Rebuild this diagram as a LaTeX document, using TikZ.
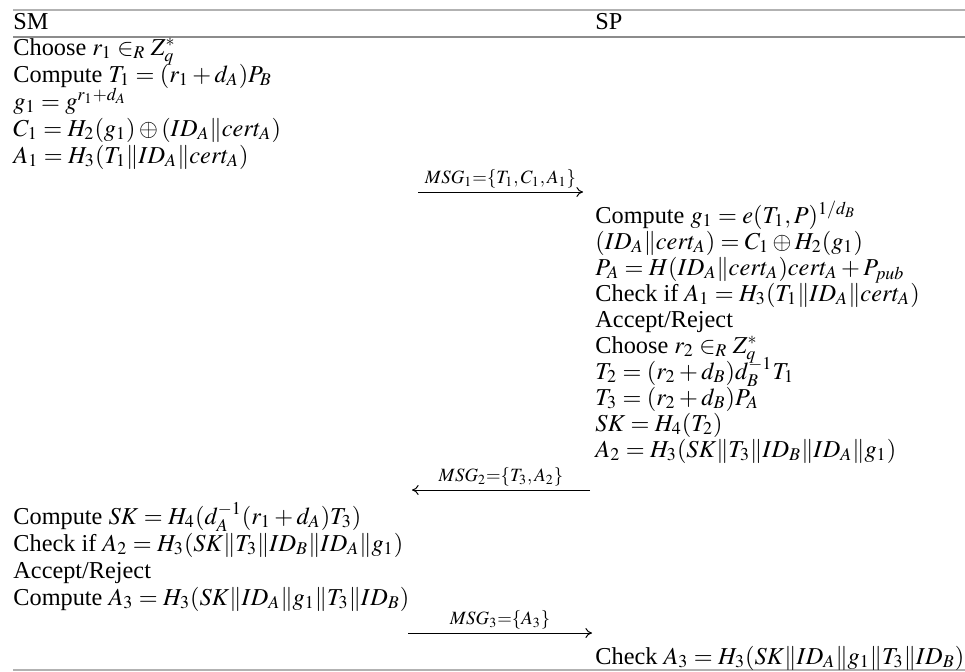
\documentclass[tikz,border=0pt]{standalone}
\usepackage{mathptmx}
\usepackage{fontspec}
\setmainfont{Liberation Serif}
\usetikzlibrary{arrows.meta}
\begin{document}
\begin{tikzpicture}[x=0.453pt,y=-0.453pt,
  txt/.style={anchor=base west,inner sep=0pt,font=\fontsize{11}{12}\selectfont},
  rule/.style={draw=gray!75,line width=0.5pt},
  msg/.style={-{To[length=3pt,width=4.5pt]},line width=0.45pt},
  lbl/.style={above,inner sep=1.5pt,font=\fontsize{8.5}{9}\selectfont}]
\useasboundingbox (0,0) rectangle (965,671);
% rules
\coordinate (t0) at (13,10); \coordinate (t1) at (965,10);
\coordinate (h0) at (13,37); \coordinate (h1) at (965,37);
\coordinate (e0) at (13,670); \coordinate (e1) at (965,670);
\draw[rule,draw=gray!60] (t0) -- (t1);
\draw[rule,draw=gray!90] (h0) -- (h1);
\draw[rule,draw=gray!60] (e0) -- (e1);
% headers
\node[txt] (sm) at (13,29) {SM};
\node[txt] (sp) at (595,29) {SP};
% SM first block
\node[txt] (l1) at (13,55)  {Choose $r_1 \in_R Z_q^*$};
\node[txt] (l2) at (13,82)  {Compute $T_1=(r_1+d_A)P_B$};
\node[txt] (l3) at (13,109) {$g_1=g^{r_1+d_A}$};
\node[txt] (l4) at (13,136) {$C_1=H_2(g_1)\oplus(ID_A\|cert_A)$};
\node[txt] (l5) at (13,163) {$A_1=H_3(T_1\|ID_A\|cert_A)$};
% MSG1
\coordinate (m1s) at (418,192); \coordinate (m1e) at (583,192);
\draw[msg] (m1s) -- node[lbl] (m1) {$MSG_1{=}\{T_1,C_1,A_1\}$} (m1e);
% SP block
\node[txt] (r1)  at (595,223) {Compute $g_1=e(T_1,P)^{1/d_B}$};
\node[txt] (r2)  at (595,249) {$(ID_A\|cert_A)=C_1\oplus H_2(g_1)$};
\node[txt] (r3)  at (595,275) {$P_A=H(ID_A\|cert_A)cert_A+P_{pub}$};
\node[txt] (r4)  at (595,301) {Check if $A_1=H_3(T_1\|ID_A\|cert_A)$};
\node[txt] (r5)  at (595,327) {Accept/Reject};
\node[txt] (r6)  at (595,353) {Choose $r_2 \in_R Z_q^*$};
\node[txt] (r7)  at (595,379) {$T_2=(r_2+d_B)d_B^{-1}T_1$};
\node[txt] (r8)  at (595,405) {$T_3=(r_2+d_B)P_A$};
\node[txt] (r9)  at (595,431) {$SK=H_4(T_2)$};
\node[txt] (r10) at (595,457) {$A_2=H_3(SK\|T_3\|ID_B\|ID_A\|g_1)$};
% MSG2
\coordinate (m2s) at (590,490); \coordinate (m2e) at (412,490);
\draw[msg] (m2s) -- node[lbl] (m2) {$MSG_2{=}\{T_3,A_2\}$} (m2e);
% SM second block
\node[txt] (b1) at (13,524) {Compute $SK=H_4(d_A^{-1}(r_1+d_A)T_3)$};
\node[txt] (b2) at (13,551) {Check if $A_2=H_3(SK\|T_3\|ID_B\|ID_A\|g_1)$};
\node[txt] (b3) at (13,578) {Accept/Reject};
\node[txt] (b4) at (13,605) {Compute $A_3=H_3(SK\|ID_A\|g_1\|T_3\|ID_B)$};
% MSG3
\coordinate (m3s) at (408,633); \coordinate (m3e) at (592,633);
\draw[msg] (m3s) -- node[lbl] (m3) {$MSG_3{=}\{A_3\}$} (m3e);
% final check
\node[txt] (c1) at (595,664) {Check $A_3=H_3(SK\|ID_A\|g_1\|T_3\|ID_B)$};
\end{tikzpicture}
\end{document}
